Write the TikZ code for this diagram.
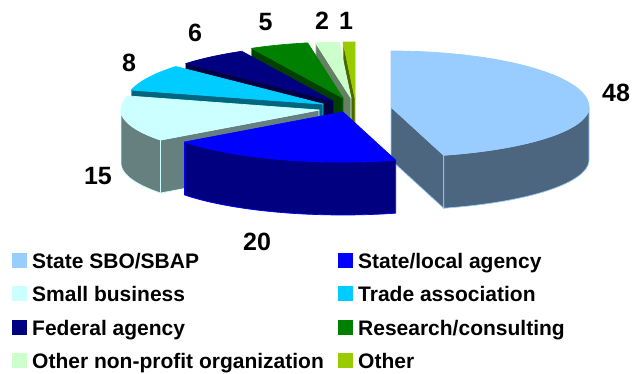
\documentclass[tikz,border=0pt]{standalone}
\usepackage{fontspec}
\setmainfont{Liberation Sans}
\definecolor{tA}{HTML}{99CCFF}\definecolor{sA}{HTML}{4D6680}
\definecolor{tB}{HTML}{0000FF}\definecolor{sB}{HTML}{000080}
\definecolor{tC}{HTML}{CCFFFF}\definecolor{sC}{HTML}{668080}
\definecolor{tD}{HTML}{00CCFF}\definecolor{sD}{HTML}{006680}
\definecolor{tE}{HTML}{000080}\definecolor{sE}{HTML}{000040}
\definecolor{tF}{HTML}{008000}\definecolor{sF}{HTML}{004000}
\definecolor{tG}{HTML}{CCFFCC}\definecolor{sG}{HTML}{668066}
\definecolor{tH}{HTML}{99CC00}\definecolor{sH}{HTML}{4D6600}
\newcommand{\pieTop}[5]{%
  \filldraw[fill=#5, draw=#5, edgeline] (#1,#2) -- plot[domain=#3:#4, samples=60] ({rimx(#1,\x)},{rimy(#2,\x)}) -- cycle;}
\newcommand{\pieFront}[6]{%
  \filldraw[fill=#5, draw=#6, edgeline] plot[domain=#3:#4, samples=50] ({rimx(#1,\x)},{rimy(#2,\x)}) -- plot[domain=#4:#3, samples=50] ({rimx(#1,\x)},{rimy(#2,\x)+53}) -- cycle;}
\newcommand{\pieFace}[5]{%
  \filldraw[fill=#4, draw=#5, edgeline] (#1,#2) -- ({rimx(#1,#3)},{rimy(#2,#3)}) -- ++(0,53) -- (#1,#2+53) -- cycle;}
\begin{document}
\begin{tikzpicture}[x=1pt,y=-1pt,
  declare function={
    rimx(\myc,\mya)=\myc+198*sin(\mya);
    rimy(\myc,\mya)=\myc-56*max(cos(\mya),0)-50*min(cos(\mya),0);
  },
  edgeline/.style={line width=0.7pt, line join=round},
  val/.style={font=\bfseries\fontsize{25}{25}\selectfont, inner sep=0pt},
  leg/.style={font=\bfseries\fontsize{21}{21}\selectfont, inner sep=0pt, anchor=base west},
  legbox/.style={inner sep=0pt, minimum size=15, anchor=south west}]
\useasboundingbox (0,0) rectangle (636,374);
% Other (1)
\pieFace{355}{98}{356.571}{sH}{tH}
\pieTop{355}{98}{356.571}{360}{tH}
% Other non-profit (2)
\pieFace{351}{98}{349.714}{sG}{tG}
\pieTop{351}{98}{349.714}{356.571}{tG}
% Research (5)
\pieFace{343}{98}{332.571}{sF}{tF}
\pieTop{343}{98}{332.571}{349.714}{tF}
% Federal (6)
\pieFace{333}{101}{312}{sE}{tE}
\pieTop{333}{101}{312}{332.571}{tE}
% Trade (8)
\pieFace{323}{104}{284.571}{sD}{tD}
\pieTop{323}{104}{284.571}{312}{tD}
% Small business (15)
\pieFace{319}{110}{233.143}{sC}{tC}
\pieFront{319}{110}{233.143}{270}{sC}{tC}
\pieTop{319}{110}{233.143}{284.571}{tC}
% State SBO/SBAP (48)
\pieFace{391}{107}{164.571}{sA}{tA}
\pieFront{391}{107}{90}{164.571}{sA}{tA}
\pieTop{391}{107}{0}{164.571}{tA}
% State/local agency (20)
\pieFront{343}{112}{164.571}{233.143}{sB}{tB}
\pieTop{343}{112}{164.571}{233.143}{tB}
% value labels
\node[val] (v48) at (616,92.5) {48};
\node[val] (v20) at (257,242) {20};
\node[val] (v15) at (98,176) {15};
\node[val] (v8) at (129,63) {8};
\node[val] (v6) at (195,33) {6};
\node[val] (v5) at (265.5,22.5) {5};
\node[val] (v2) at (322,21) {2};
\node[val] (v1) at (346,21) {1};
% legend
\node[legbox, fill=tA] (m1) at (12,268) {};
\node[leg] (l1) at (32,268) {State SBO/SBAP};
\node[legbox, fill=tB] (m2) at (338,268) {};
\node[leg] (l2) at (358,268) {State/local agency};
\node[legbox, fill=tC] (m3) at (12,301.5) {};
\node[leg] (l3) at (32,301.5) {Small business};
\node[legbox, fill=tD] (m4) at (338,301.5) {};
\node[leg] (l4) at (358,301.5) {Trade association};
\node[legbox, fill=tE] (m5) at (12,335) {};
\node[leg] (l5) at (32,335) {Federal agency};
\node[legbox, fill=tF] (m6) at (338,335) {};
\node[leg] (l6) at (358,335) {Research/consulting};
\node[legbox, fill=tG] (m7) at (12,368) {};
\node[leg] (l7) at (32,368) {Other non-profit organization};
\node[legbox, fill=tH] (m8) at (338,368) {};
\node[leg] (l8) at (358,368) {Other};
\end{tikzpicture}
\end{document}
